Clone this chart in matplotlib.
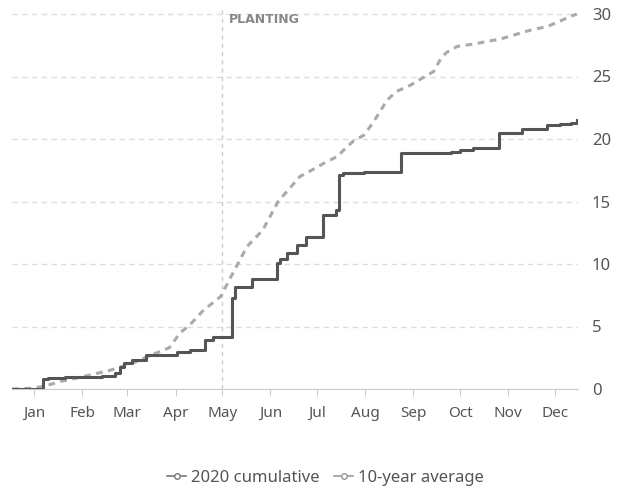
import matplotlib.pyplot as plt
from matplotlib.lines import Line2D

plt.rcParams['font.family'] = ['Noto Sans', 'DejaVu Sans']

# day of year (0 = Jan 1, 2020) where the cumulative total changes, and new total
cum_days = [-14, 6, 9, 20, 44, 52, 55, 58, 63, 72, 92, 100, 110, 115, 127, 129,
            140, 156, 158, 163, 169, 175, 186, 194, 196, 199, 212, 236, 268,
            274, 282, 299, 314, 330, 338, 345, 349]
cum_vals = [0, 0.8, 0.9, 1.0, 1.05, 1.3, 1.8, 2.1, 2.3, 2.7, 3.0, 3.1, 3.9, 4.2,
            7.3, 8.2, 8.8, 10.1, 10.4, 10.9, 11.5, 12.2, 13.9, 14.3, 17.1, 17.3,
            17.4, 18.9, 19.0, 19.1, 19.3, 20.5, 20.8, 21.1, 21.2, 21.3, 21.5]

# 10-year average cumulative
avg_days = [-14, -3, 6, 17, 32, 49, 64, 75, 87, 94, 100, 109, 120, 128, 137, 147,
            157, 171, 177, 187, 195, 199, 205, 212, 218, 223, 227, 233, 242,
            250, 257, 261, 265, 272, 283, 291, 300, 308, 319, 330, 334, 343, 349]
avg_vals = [0, 0.05, 0.2, 0.6, 1.0, 1.5, 2.1, 2.7, 3.3, 4.5, 5.1, 6.3, 7.4, 9.3,
            11.4, 12.7, 15.0, 17.0, 17.4, 18.1, 18.6, 19.1, 19.8, 20.3, 21.3,
            22.3, 23.1, 23.8, 24.3, 24.9, 25.4, 26.3, 26.9, 27.4, 27.6, 27.8,
            28.0, 28.3, 28.7, 29.0, 29.2, 29.7, 30.0]

month_starts = [0, 31, 60, 91, 121, 152, 182, 213, 244, 274, 305, 335]
month_labels = ['Jan', 'Feb', 'Mar', 'Apr', 'May', 'Jun', 'Jul', 'Aug', 'Sep',
                'Oct', 'Nov', 'Dec']
planting_day = 121

fig = plt.figure(figsize=(6.2, 4.91), dpi=100)
ax = fig.add_axes([12/620, 1-389/491, (578-12)/620, (389-10)/491])

ax.plot(avg_days, avg_vals, color='#aaaaaa', lw=2.2, ls=(0, (2.2, 1.8)), zorder=3)
ax.plot(cum_days, cum_vals, color='#555555', lw=2.2, drawstyle='steps-post', zorder=4)

ax.axvline(planting_day, color='#cccccc', lw=1, ls=(0, (3, 3)), zorder=1)
ax.text(planting_day + 4, 29.55, 'PLANTING', fontsize=9, fontweight='bold',
        family=['DejaVu Sans'], color='#888888', va='center', ha='left')

ax.set_xlim(-14.15, 349.8)
ax.set_ylim(0, 30.32)
ax.set_yticks([0, 5, 10, 15, 20, 25, 30])
ax.yaxis.tick_right()
ax.tick_params(axis='y', length=0, pad=10, labelsize=12, labelcolor='#555555')
ax.set_xticks(month_starts)
ax.set_xticklabels(month_labels)
ax.tick_params(axis='x', length=5, color='#cccccc', pad=7, labelsize=11,
               labelcolor='#555555')
ax.grid(axis='y', color='#dddddd', lw=1, ls=(0, (4, 3)))
ax.set_axisbelow(True)
for s in ['top', 'left', 'right']:
    ax.spines[s].set_visible(False)
ax.spines['bottom'].set_color('#cccccc')

handles = [Line2D([], [], color='#777777', lw=1.2, marker='o', markersize=4,
                  markerfacecolor='white', markeredgecolor='#777777'),
           Line2D([], [], color='#999999', lw=1.2, marker='o', markersize=4,
                  markerfacecolor='white', markeredgecolor='#999999')]
fig.legend(handles, ['2020 cumulative', '10-year average'], loc='center',
           bbox_to_anchor=(0.525, 1-478/491), ncol=2, frameon=False,
           fontsize=12, handlelength=1.1, handletextpad=0.3, columnspacing=0.9,
           labelcolor='#555555')

fig.savefig('out.png', dpi=100)
